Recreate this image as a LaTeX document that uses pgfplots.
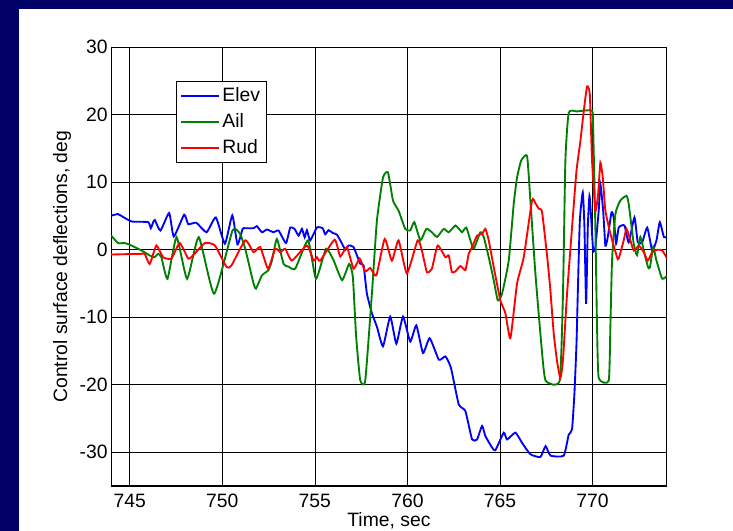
\documentclass[border=0pt]{standalone}
\usepackage{fontspec}
\setmainfont{Liberation Sans}
\usepackage{pgfplots}
\pgfplotsset{compat=1.18}
\definecolor{navybg}{RGB}{0,0,102}
\definecolor{mgreen}{RGB}{0,128,0}

\begin{document}
\begin{tikzpicture}
% slide background
\fill[navybg] (-83.4pt,-33.75pt) rectangle (466.35pt,364.5pt);
\fill[white] (-69.15pt,-33.75pt) rectangle (466.35pt,357.75pt);
\begin{axis}[
  at={(0,0)}, anchor=south west,
  scale only axis, width=416.6pt, height=329pt,
  xmin=744, xmax=774, ymin=-35, ymax=30,
  xtick={745,750,...,770}, ytick={-30,-20,...,30},
  grid=major, major grid style={black, line width=0.5pt},
  tick align=inside, major tick length=3pt,
  axis line style={line width=0.8pt},
  tick style={black, line width=0.5pt},
  font=\fontsize{14.5}{17}\selectfont,
  /pgf/number format/assume math mode=true,
  xticklabel style={anchor=base, yshift=-16.5pt},
  yticklabel style={inner xsep=0pt, xshift=-2.5pt},
  xlabel={Time, sec},
  ylabel={Control surface deflections, deg},
  xlabel style={at={(axis description cs:0.5,-0.0934)}, anchor=base, inner sep=0pt},
  ylabel style={at={(axis description cs:-0.0882,0.5)}, anchor=center, inner sep=0pt},
  legend style={at={(axis description cs:0.1167,0.924)}, anchor=north west,
    draw=black, line width=0.8pt, font=\fontsize{14.5}{17}\selectfont,
    inner xsep=3pt, inner ysep=3pt, row sep=3.5pt, cells={anchor=west}},
  legend image code/.code={\draw[#1, line width=1.4pt] (0pt,0pt) -- (28pt,0pt);},
]
% Elev
\addplot[blue, line width=1.4pt, smooth, tension=0.3] coordinates {
(744.00,5.06) (744.36,5.3) (744.5,5.1) (745.1,4.2) (745.99,4.1) (746.14,3.2)
(746.27,4.1) (746.36,4.4) (746.66,2.85) (747.13,5.45) (747.38,1.97) (747.94,5.2)
(748.16,3.8) (748.6,4.0) (749.15,2.6) (749.65,4.8) (750.14,0.9) (750.54,5.1)
(750.82,0.8) (751.1,3.1) (751.24,3.2) (751.69,3.2) (751.87,3.5) (752.14,2.6)
(752.41,3.0) (752.77,2.6) (753.04,2.85) (753.44,1.0) (753.67,3.3) (753.9,3.1)
(754.12,2.1) (754.3,3.1) (754.45,1.85) (754.57,2.9) (754.75,1.4) (755.11,3.3)
(755.42,3.2) (755.56,2.3) (755.74,2.9) (755.96,2.5) (756.19,2.25) (756.43,1.1)
(756.65,0.0) (756.82,0.64) (757.09,0.4) (757.45,-2.06) (757.63,-2.3) (757.81,-6.5)
(758.08,-9.4) (758.35,-11.4) (758.68,-14.3) (759.07,-9.9) (759.4,-13.9) (759.76,-9.9)
(760.15,-13.6) (760.48,-11.2) (760.84,-15.3) (761.2,-13.1) (761.7,-16.3) (762.05,-15.8)
(762.35,-17.5) (762.77,-22.9) (763.13,-23.9) (763.49,-28.1) (763.76,-28.1) (764.03,-26.1)
(764.21,-27.6) (764.57,-29.3) (764.75,-29.7) (765.2,-27.1) (765.38,-28.1) (765.83,-27.1)
(766.19,-28.6) (766.64,-30.3) (767.18,-30.7) (767.46,-29.1) (767.73,-30.5) (768.44,-30.5)
(768.71,-27.4) (768.89,-26.6) (769.02,-21.2) (769.13,-13.9) (769.2,-6.5) (769.31,4.3)
(769.47,8.5) (769.56,3.3) (769.65,-8.0) (769.74,3.3) (769.83,8.0) (769.92,4.8)
(770.03,-0.1) (770.15,0.4) (770.33,5.8) (770.42,9.7) (770.57,5.8) (770.69,0.6)
(770.82,1.9) (771.02,5.55) (771.14,4.8) (771.27,0.9) (771.41,3.3) (771.72,3.6)
(771.95,1.1) (772.26,4.8) (772.44,1.1) (772.68,1.1) (772.95,3.3) (773.22,-0.1)
(773.45,1.4) (773.63,4.1) (773.85,1.9) (774.03,1.9)
};
\addlegendentry{Elev}
% Ail
\addplot[mgreen, line width=1.4pt, smooth, tension=0.3] coordinates {
(744.0,2.1) (744.37,1.0) (744.73,1.0) (745.09,0.64) (745.63,-0.1) (746.08,-0.84)
(746.35,-1.1) (746.53,-0.6) (746.71,-1.1) (747.04,-4.3) (747.53,1.87) (748.1,-4.3)
(748.73,1.87) (749.56,-6.5) (750.55,2.85) (750.95,2.4) (751.24,0.15) (751.67,-4.8)
(751.82,-5.75) (752.14,-3.8) (752.5,-3.0) (752.68,-1.6) (752.95,1.6) (753.31,-2.1)
(753.58,-2.5) (753.94,-2.8) (754.63,1.4) (755.06,-4.3) (755.6,0.15) (756.0,-1.5)
(756.47,-4.5) (756.85,-2.1) (757.05,-4.0) (757.23,-12.9) (757.45,-19.3) (757.72,-19.4)
(758.08,-6.5) (758.35,4.3) (758.68,10.7) (758.95,11.45) (759.22,7.3) (759.52,5.8)
(759.88,3.1) (760.15,2.85) (760.37,4.1) (760.7,1.4) (761.02,3.1) (761.32,2.6)
(761.6,1.9) (761.96,3.1) (762.23,2.6) (762.59,3.6) (762.86,2.85) (762.95,2.6)
(763.18,3.3) (763.4,1.4) (763.58,0.15) (763.94,2.6) (764.12,1.9) (764.39,-1.1)
(764.66,-4.5) (764.88,-7.5) (765.11,-6.5) (765.47,-1.6) (765.74,6.8) (765.92,10.7)
(766.14,13.2) (766.46,13.9) (766.64,7.3) (766.91,-3.5) (767.18,-12.4) (767.45,-19.3)
(768.22,-19.4) (768.4,-6.5) (768.53,13.2) (768.71,20.3) (769.16,20.5) (769.97,20.6)
(770.03,18.1) (770.15,3.3) (770.24,-11.4) (770.33,-19.0) (770.87,-19.4) (770.96,-11.4)
(771.05,-1.6) (771.23,5.3) (771.5,7.3) (771.83,8.0) (771.95,6.8) (772.22,0.9)
(772.4,-0.8) (772.58,1.9) (772.85,-1.1) (773.0,-2.6) (773.1,-2.6) (773.27,0.4)
(773.45,-1.6) (773.76,-4.3) (774.03,-3.8)
};
\addlegendentry{Ail}
% Rud
\addplot[red, line width=1.4pt, smooth, tension=0.3] coordinates {
(744.0,-0.7) (745.6,-0.6) (745.81,-0.6) (746.08,-2.1) (746.44,0.64) (746.8,-1.1)
(747.25,-1.3) (747.7,1.0) (748.16,-1.3) (748.43,-0.8) (749.06,1.0) (749.6,0.64)
(750.23,-2.55) (750.5,-2.3) (751.24,1.4) (751.69,-0.35) (752.05,0.4) (752.47,-2.8)
(752.86,0.15) (753.13,-0.35) (753.4,0.15) (753.76,-1.6) (754.57,0.64) (754.93,-1.6)
(755.11,-1.1) (755.29,-1.6) (756.07,1.5) (756.37,-1.0) (756.73,0.4) (757.09,-2.8)
(757.42,-1.3) (757.72,-3.2) (757.99,-2.7) (758.32,-3.8) (758.77,1.6) (759.16,-1.6)
(759.52,1.4) (759.97,-3.5) (760.55,1.4) (760.78,-0.1) (761.05,-3.3) (761.32,-2.8)
(761.63,0.64) (762.05,-1.1) (762.23,-0.84) (762.4,-3.3) (762.59,-3.2) (762.86,-2.4)
(763.13,-3.0) (763.31,-0.6) (763.49,0.4) (763.76,2.1) (764.03,2.36) (764.21,3.1)
(764.39,1.4) (764.66,-2.56) (765.02,-7.5) (765.29,-9.4) (765.56,-13.1) (765.92,-5.0)
(766.28,-1.1) (766.73,7.3) (766.91,6.9) (767.09,6.1) (767.27,5.6) (767.55,-1.1)
(767.72,-6.0) (767.9,-12.4) (768.08,-16.5) (768.26,-19.0) (768.4,-16.3) (768.62,-6.5)
(768.89,3.3) (769.13,11.7) (769.34,16.1) (769.52,20.5) (769.7,24.2) (769.85,23.0)
(769.97,13.2) (770.15,5.8) (770.3,8.3) (770.42,12.9) (770.55,10.7) (770.69,5.8)
(770.96,2.4) (771.32,-1.1) (771.41,-1.3) (771.68,1.4) (771.83,3.1) (772.04,1.4)
(772.22,-0.1) (772.5,0.6) (772.76,-0.35) (772.98,-1.6) (773.22,-0.35) (773.49,0.0)
(773.76,-0.1) (774.03,-1.3)
};
\addlegendentry{Rud}
\end{axis}
\pgfresetboundingbox
\path (-83.4pt,-33.75pt) rectangle (466.35pt,364.5pt);
\end{tikzpicture}
\end{document}
